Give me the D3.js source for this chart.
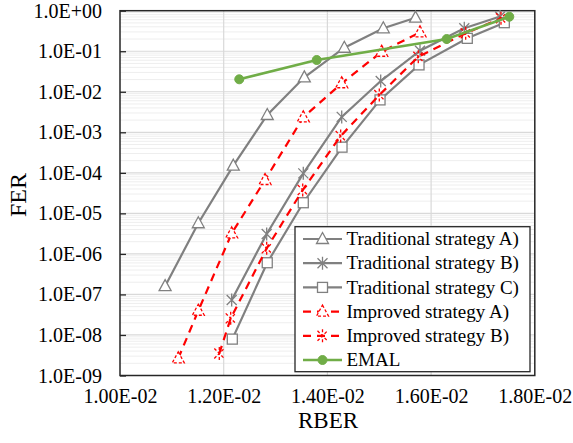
<!DOCTYPE html>
<html>
<head>
<meta charset="utf-8">
<script src="https://cdn.jsdelivr.net/npm/d3@7"></script>
<style>
  html, body { margin: 0; padding: 0; background: #fff; }
  svg { display: block; font-family: "Liberation Serif", "Times New Roman", serif; }
</style>
</head>
<body>
<svg id="chart" width="573" height="443"></svg>
<script>
// RBER / FER values per decoding strategy
const tradA_rber = [0.01087, 0.01151, 0.012185, 0.01284, 0.013555, 0.014326, 0.015078, 0.0157];
const tradA_fer  = [1.6e-7, 5.7e-6, 1.5e-4, 2.67e-3, 2.27e-2, 0.122, 0.368, 0.672];

const tradB_rber = [0.012154, 0.012829, 0.013535, 0.014276, 0.015028, 0.015786, 0.01664, 0.01733];
const tradB_fer  = [7.3e-8, 3.1e-6, 9.7e-5, 2.4e-3, 1.84e-2, 0.103, 0.37, 0.72];

const tradC_rber = [0.012166, 0.01284, 0.013535, 0.014282, 0.015015, 0.015767, 0.016698, 0.017412];
const tradC_fer  = [7.9e-9, 6.05e-7, 1.83e-5, 4.3e-4, 6.3e-3, 4.6e-2, 0.208, 0.506];

const impA_rber = [0.011124, 0.01151, 0.012154, 0.012797, 0.013535, 0.014276, 0.015047, 0.015786];
const impA_fer  = [2.65e-9, 3.96e-8, 3.2e-6, 6.65e-5, 2.34e-3, 1.62e-2, 9.7e-2, 0.293];

const impB_rber = [0.011915, 0.012135, 0.012829, 0.013524, 0.014256, 0.015001, 0.015753, 0.016667, 0.017348];
const impB_fer  = [3.5e-9, 2.57e-8, 1.37e-6, 3.77e-5, 8.1e-4, 8.3e-3, 7.3e-2, 0.277, 0.65];

const emal_rber = [0.0123, 0.013794, 0.016301, 0.017508];
const emal_fer  = [0.0203, 0.0608, 0.2, 0.71];

const seriesNames = ["Traditional strategy A)", "Traditional strategy B)", "Traditional strategy C)",
                     "Improved strategy A)", "Improved strategy B)", "EMAL"];

const xTicks = [0.010, 0.012, 0.014, 0.016, 0.018];
const yTicks = [1, 1e-1, 1e-2, 1e-3, 1e-4, 1e-5, 1e-6, 1e-7, 1e-8, 1e-9];

const GRAY = "#808080", RED = "#ff0000", GREEN = "#70ad47";
const series = [
  { name: seriesNames[0], x: tradA_rber, y: tradA_fer, color: GRAY, marker: "triangle", dashed: false },
  { name: seriesNames[1], x: tradB_rber, y: tradB_fer, color: GRAY, marker: "star", dashed: false },
  { name: seriesNames[2], x: tradC_rber, y: tradC_fer, color: GRAY, marker: "square", dashed: false },
  { name: seriesNames[3], x: impA_rber, y: impA_fer, color: RED, marker: "triangle", dashed: true },
  { name: seriesNames[4], x: impB_rber, y: impB_fer, color: RED, marker: "star", dashed: true },
  { name: seriesNames[5], x: emal_rber, y: emal_fer, color: GREEN, marker: "circle", dashed: false }
];

const svg = d3.select("#chart");
const L = 120, R = 534.8, T = 10.7, B = 375.5;

const x = d3.scaleLinear().domain([0.010, 0.018]).range([L, R]);
const y = d3.scaleLog().domain([1e-9, 1]).range([B, T]);

// minor horizontal grid (2..9 within each decade)
const minor = [];
for (let e = -9; e < 0; e++) for (let m = 2; m <= 9; m++) minor.push(m * Math.pow(10, e));
svg.append("g").selectAll("line").data(minor).join("line")
  .attr("x1", L).attr("x2", R)
  .attr("y1", d => y(d)).attr("y2", d => y(d))
  .attr("stroke", "#eeeeee").attr("stroke-width", 1);

// major grid
svg.append("g").selectAll("line").data(yTicks.slice(1, -1)).join("line")
  .attr("x1", L).attr("x2", R)
  .attr("y1", d => y(d)).attr("y2", d => y(d))
  .attr("stroke", "#d9d9d9").attr("stroke-width", 1.2);
svg.append("g").selectAll("line").data(xTicks.slice(1, -1)).join("line")
  .attr("x1", d => x(d)).attr("x2", d => x(d))
  .attr("y1", T).attr("y2", B)
  .attr("stroke", "#d9d9d9").attr("stroke-width", 1.2);

// y axis: ticks pointing inward, labels on the left
const yFmt = d => {
  const e = Math.round(Math.log10(d));
  return "1.0E" + (e >= 0 ? "+" : "-") + String(Math.abs(e)).padStart(2, "0");
};
const yAxis = d3.axisRight(y).tickValues(yTicks).tickFormat("").tickSize(6).tickSizeOuter(0);
svg.append("g").attr("transform", `translate(${L},0)`).call(yAxis)
  .call(g => g.select(".domain").remove())
  .call(g => g.selectAll(".tick line").attr("stroke", "#262626").attr("stroke-width", 1.3));
svg.append("g").selectAll("text").data(yTicks).join("text")
  .attr("x", L - 18).attr("y", d => y(d)).attr("dy", "0.35em")
  .attr("text-anchor", "end").attr("font-size", 20).attr("fill", "#000")
  .text(yFmt);

// x axis labels
const xFmt = d => {
  const [m, e] = d.toExponential(2).toUpperCase().split("E");
  const n = parseInt(e, 10);
  return m + "E" + (n >= 0 ? "+" : "-") + String(Math.abs(n)).padStart(2, "0");
};
const xAxis = d3.axisBottom(x).tickValues(xTicks).tickFormat(xFmt).tickSize(0).tickPadding(13.5);
svg.append("g").attr("transform", `translate(0,${B})`).call(xAxis)
  .call(g => g.select(".domain").remove())
  .call(g => g.selectAll("text").attr("font-size", 20).attr("fill", "#000")
    .attr("font-family", "Liberation Serif, Times New Roman, serif"));

// plot frame
svg.append("rect").attr("x", L).attr("y", T).attr("width", R - L).attr("height", B - T)
  .attr("fill", "none").attr("stroke", "#262626").attr("stroke-width", 1.5);

// axis titles
svg.append("text").attr("x", 328).attr("y", 428).attr("text-anchor", "middle")
  .attr("font-size", 23).text("RBER");
svg.append("text").attr("transform", "translate(26,195) rotate(-90)").attr("text-anchor", "middle")
  .attr("font-size", 24).text("FER");

// marker drawing
function drawMarker(g, type, color, dashed) {
  const dash = dashed ? "3,2" : null;
  if (type === "triangle") {
    g.append("path").attr("d", "M0,-6.5 L6,4.5 L-6,4.5 Z")
      .attr("fill", "#fff").attr("stroke", color).attr("stroke-width", 1.3)
      .attr("stroke-dasharray", dash);
  } else if (type === "square") {
    g.append("rect").attr("x", -5).attr("y", -5).attr("width", 10).attr("height", 10)
      .attr("fill", "#fff").attr("stroke", color).attr("stroke-width", 1.3);
  } else if (type === "star") {
    g.append("path").attr("d", "M-5,-5 L5,5 M-5,5 L5,-5 M0,-6.5 L0,6.5")
      .attr("fill", "none").attr("stroke", color).attr("stroke-width", 1.3)
      .attr("stroke-dasharray", dash);
  } else if (type === "circle") {
    g.append("circle").attr("r", 4.5).attr("fill", color).attr("stroke", color);
  }
}

const line = d3.line().x(d => x(d[0])).y(d => y(d[1]));

series.forEach(s => {
  const pts = s.x.map((v, i) => [v, s.y[i]]);
  const g = svg.append("g");
  g.append("path").datum(pts).attr("d", line)
    .attr("fill", "none").attr("stroke", s.color)
    .attr("stroke-width", s.marker === "circle" ? 2.5 : 2.2)
    .attr("stroke-dasharray", s.dashed ? "8,6" : null);
  pts.forEach(p => {
    const mg = g.append("g").attr("transform", `translate(${x(p[0])},${y(p[1])})`);
    drawMarker(mg, s.marker, s.color, s.dashed);
  });
});

// legend
const lg = svg.append("g");
lg.append("rect").attr("x", 295).attr("y", 226.7).attr("width", 235).attr("height", 145)
  .attr("fill", "#fff").attr("stroke", "#262626").attr("stroke-width", 1.3);
series.forEach((s, i) => {
  const cy = 239 + i * 24.2;
  lg.append("line").attr("x1", 303).attr("x2", 342).attr("y1", cy).attr("y2", cy)
    .attr("stroke", s.color).attr("stroke-width", s.marker === "circle" ? 2.5 : 2.2)
    .attr("stroke-dasharray", s.dashed ? "8,6" : null);
  const mg = lg.append("g").attr("transform", `translate(322.5,${cy})`);
  drawMarker(mg, s.marker, s.color, s.dashed);
  lg.append("text").attr("x", 346.5).attr("y", cy).attr("dy", "0.33em")
    .attr("font-size", 19).attr("fill", "#000").text(s.name);
});
</script>
</body>
</html>
